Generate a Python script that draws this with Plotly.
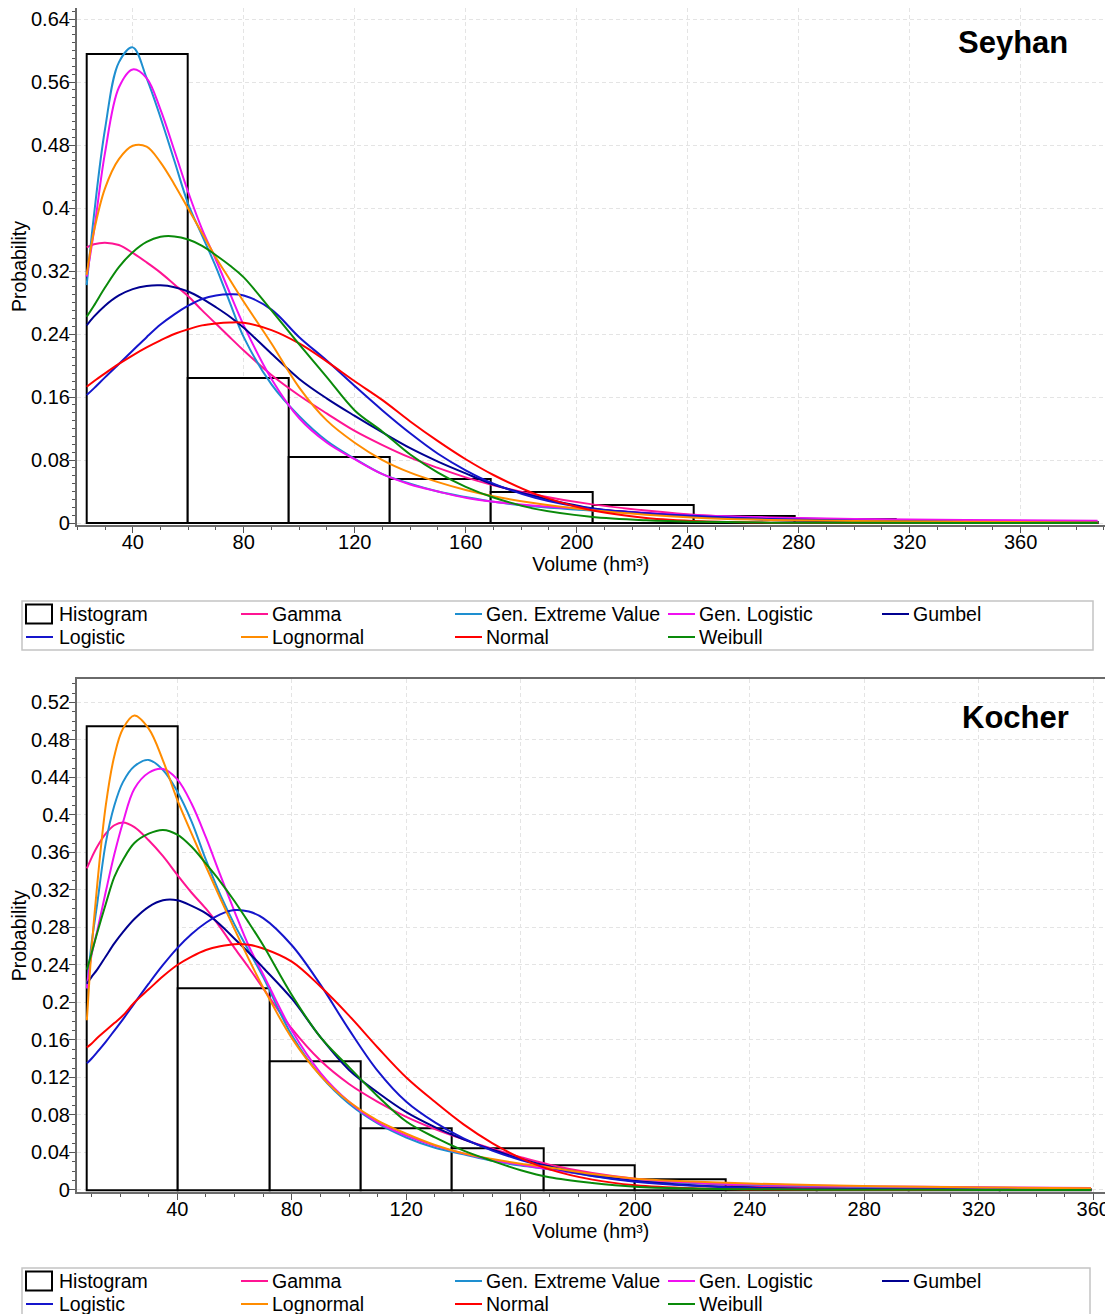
import plotly.graph_objects as go

FONT = "Liberation Sans, Arial, sans-serif"

# ================= Seyhan (top panel) =================
seyhan_bin_edges = [23.4, 59.8, 96.3, 132.7, 169.1, 205.6, 242.0, 278.4, 314.9, 351.3, 387.7]
seyhan_bin_heights = [0.596, 0.1837, 0.0842, 0.0559, 0.0398, 0.0229, 0.0085, 0.005, 0.0025, 0.0015]

seyhan_x = [23.4, 26, 30, 35, 40, 45, 50, 55, 60, 65, 70, 75, 80, 90, 100, 110, 120, 130,
            140, 150, 160, 170, 185, 205, 225, 245, 270, 300, 340, 387.7]
s_gamma = [0.350, 0.354, 0.356, 0.353, 0.343, 0.331, 0.318, 0.303, 0.288, 0.270, 0.253, 0.236,
           0.219, 0.188, 0.162, 0.139, 0.117, 0.099, 0.083, 0.070, 0.058, 0.048, 0.036, 0.024,
           0.016, 0.010, 0.0065, 0.004, 0.0025, 0.0012]
s_gev = [0.302, 0.39, 0.50, 0.585, 0.604, 0.565, 0.515, 0.46, 0.405, 0.365, 0.325, 0.28, 0.236,
         0.176, 0.1356, 0.104, 0.0816, 0.062, 0.05, 0.04, 0.033, 0.027, 0.021, 0.016, 0.012,
         0.009, 0.0065, 0.0045, 0.003, 0.002]
s_genlog = [0.313, 0.37, 0.47, 0.553, 0.576, 0.565, 0.525, 0.473, 0.42, 0.373, 0.334, 0.292,
            0.251, 0.183, 0.133, 0.102, 0.081, 0.062, 0.049, 0.040, 0.032, 0.027, 0.022, 0.0175,
            0.013, 0.0095, 0.007, 0.005, 0.004, 0.003]
s_gumbel = [0.251, 0.262, 0.276, 0.289, 0.297, 0.301, 0.3018, 0.2995, 0.294, 0.285, 0.274, 0.262,
            0.248, 0.215, 0.183, 0.158, 0.136, 0.115, 0.095, 0.078, 0.063, 0.049, 0.034, 0.019,
            0.012, 0.0075, 0.004, 0.002, 0.001, 0.0004]
s_logistic = [0.1625, 0.171, 0.185, 0.202, 0.219, 0.236, 0.252, 0.265, 0.276, 0.2845, 0.289, 0.2904,
              0.289, 0.271, 0.236, 0.206, 0.174, 0.143, 0.114, 0.088, 0.067, 0.05, 0.032, 0.0185,
              0.0125, 0.0085, 0.005, 0.0028, 0.0012, 0.0004]
s_lognormal = [0.315, 0.37, 0.425, 0.462, 0.479, 0.478, 0.458, 0.43, 0.399, 0.368, 0.337, 0.309,
               0.281, 0.228, 0.172, 0.13, 0.102, 0.08, 0.064, 0.052, 0.042, 0.034, 0.025, 0.0165,
               0.0105, 0.0065, 0.004, 0.0025, 0.0015, 0.0008]
s_normal = [0.173, 0.180, 0.19, 0.202, 0.213, 0.223, 0.232, 0.240, 0.246, 0.251, 0.2535, 0.2547,
            0.2543, 0.245, 0.228, 0.205, 0.18, 0.156, 0.129, 0.104, 0.081, 0.061, 0.037, 0.0165,
            0.0065, 0.0022, 0.0005, 0.0001, 0.0, 0.0]
s_weibull = [0.262, 0.276, 0.299, 0.325, 0.344, 0.357, 0.3635, 0.364, 0.36, 0.352, 0.34, 0.327,
             0.312, 0.27, 0.227, 0.185, 0.143, 0.116, 0.087, 0.064, 0.046, 0.0325, 0.018, 0.008,
             0.0035, 0.0015, 0.0005, 0.0002, 0.0, 0.0]

# ================= Kocher (bottom panel) =================
kocher_bin_edges = [8.4, 40.3, 72.2, 104.1, 136.0, 167.9, 199.7, 231.6, 263.5, 295.4, 327.3, 359.2]
kocher_bin_heights = [0.4949, 0.2151, 0.1369, 0.0655, 0.0445, 0.026, 0.0117, 0.0025, 0.0015, 0.001, 0.0005]

kocher_x = [8.4, 10, 12, 15, 18, 21, 25, 30, 35, 40, 45, 50, 55, 60, 65, 70, 80, 90, 100, 110,
            120, 130, 140, 150, 160, 170, 185, 200, 220, 240, 265, 300, 330, 359.2]
k_gamma = [0.343, 0.354, 0.366, 0.380, 0.389, 0.392, 0.387, 0.373, 0.356, 0.336, 0.317, 0.3,
           0.28, 0.258, 0.237, 0.215, 0.172, 0.138, 0.113, 0.094, 0.078, 0.065, 0.054, 0.044,
           0.035, 0.027, 0.018, 0.012, 0.0075, 0.0045, 0.0025, 0.0012, 0.0007, 0.0004]
k_gev = [0.215, 0.262, 0.305, 0.37, 0.41, 0.435, 0.452, 0.4587, 0.448, 0.425, 0.393, 0.352,
         0.315, 0.283, 0.255, 0.227, 0.165, 0.122, 0.092, 0.071, 0.056, 0.045, 0.038, 0.031,
         0.026, 0.022, 0.015, 0.010, 0.0075, 0.0055, 0.004, 0.0028, 0.0022, 0.0018]
k_genlog = [0.215, 0.25, 0.276, 0.318, 0.358, 0.392, 0.428, 0.445, 0.449, 0.438, 0.412, 0.376,
            0.336, 0.297, 0.26, 0.23, 0.17, 0.125, 0.094, 0.072, 0.058, 0.047, 0.039, 0.032,
            0.027, 0.022, 0.016, 0.0115, 0.008, 0.006, 0.0045, 0.0033, 0.0026, 0.002]
k_gumbel = [0.22, 0.227, 0.235, 0.249, 0.263, 0.275, 0.289, 0.302, 0.309, 0.309, 0.303, 0.295,
            0.283, 0.268, 0.253, 0.237, 0.204, 0.163, 0.128, 0.104, 0.083, 0.067, 0.054, 0.043,
            0.033, 0.025, 0.016, 0.0095, 0.005, 0.0025, 0.0012, 0.0005, 0.0002, 0.0001]
k_logistic = [0.135, 0.14, 0.147, 0.158, 0.17, 0.182, 0.199, 0.22, 0.24, 0.258, 0.273, 0.285,
              0.294, 0.2986, 0.297, 0.29, 0.261, 0.219, 0.171, 0.127, 0.094, 0.072, 0.055, 0.042,
              0.032, 0.024, 0.015, 0.0088, 0.0045, 0.0022, 0.001, 0.0004, 0.0002, 0.0001]
k_lognormal = [0.181, 0.255, 0.325, 0.41, 0.463, 0.492, 0.506, 0.492, 0.458, 0.416, 0.38, 0.345,
               0.311, 0.278, 0.246, 0.216, 0.162, 0.122, 0.094, 0.074, 0.06, 0.048, 0.039, 0.033,
               0.028, 0.024, 0.017, 0.012, 0.009, 0.0068, 0.005, 0.0035, 0.0025, 0.0018]
k_normal = [0.152, 0.156, 0.162, 0.17, 0.178, 0.186, 0.2, 0.214, 0.228, 0.24, 0.249, 0.256,
            0.26, 0.2622, 0.2615, 0.2575, 0.2435, 0.217, 0.186, 0.152, 0.12, 0.094, 0.07, 0.05,
            0.034, 0.022, 0.011, 0.005, 0.0017, 0.0005, 0.0001, 0.0, 0.0, 0.0]
k_weibull = [0.235, 0.252, 0.274, 0.305, 0.334, 0.352, 0.370, 0.38, 0.384, 0.379, 0.366, 0.348,
             0.329, 0.308, 0.285, 0.261, 0.208, 0.163, 0.131, 0.1, 0.073, 0.056, 0.042, 0.031,
             0.021, 0.0135, 0.0075, 0.0035, 0.0015, 0.0007, 0.0003, 0.0001, 0.0, 0.0]

# ================= styling =================
names = ["Gamma", "Gen. Extreme Value", "Gen. Logistic", "Gumbel",
         "Logistic", "Lognormal", "Normal", "Weibull"]
colors = ["#ff1493", "#1e8fd0", "#f010f0", "#000090",
          "#1515cc", "#ff8c00", "#ff0000", "#0a8a0a"]

seyhan_curves = [s_gamma, s_gev, s_genlog, s_gumbel, s_logistic, s_lognormal, s_normal, s_weibull]
kocher_curves = [k_gamma, k_gev, k_genlog, k_gumbel, k_logistic, k_lognormal, k_normal, k_weibull]

# The page body has an 8px margin; figure pixel = reference pixel - 8.
W, H = 1105, 1306
fig = go.Figure()


def add_panel(edges, heights, xs, curves, xa, ya):
    centers = [(edges[i] + edges[i + 1]) / 2 for i in range(len(heights))]
    widths = [edges[i + 1] - edges[i] for i in range(len(heights))]
    fig.add_trace(go.Bar(
        x=centers, y=heights, width=widths, name="Histogram", showlegend=False,
        marker=dict(color="white", line=dict(color="black", width=2)),
        xaxis=xa, yaxis=ya, hoverinfo="skip"))
    for cy, nm, col in zip(curves, names, colors):
        fig.add_trace(go.Scatter(
            x=xs, y=cy, mode="lines", name=nm, showlegend=False,
            line=dict(color=col, width=2, shape="spline", smoothing=1.0),
            xaxis=xa, yaxis=ya, hoverinfo="skip"))


add_panel(seyhan_bin_edges, seyhan_bin_heights, seyhan_x, seyhan_curves, "x", "y")
add_panel(kocher_bin_edges, kocher_bin_heights, kocher_x, kocher_curves, "x2", "y2")


def px(v):
    return v / W


def py(v):
    return 1 - v / H


x_dom = [px(68.7), px(1097)]
top_dom = [py(517), 1.0]
bot_dom = [py(1184.3), py(671.3)]

axis_common = dict(
    showline=True, linecolor="#6a6a6a", linewidth=1.5, mirror=True,
    ticks="outside", ticklen=6, tickcolor="#555", tickwidth=1,
    showgrid=True, gridcolor="#e4e4e4", griddash="4px,3px", gridwidth=1,
    zeroline=False, tickfont=dict(size=20, color="#000", family=FONT),
)
xminor = dict(ticks="outside", ticklen=3, dtick=10, tickcolor="#555", showgrid=False)
yminor = dict(ticks="outside", ticklen=3, dtick=0.01, tickcolor="#555", showgrid=False)

# ---- legend boxes drawn as shapes + text ----
legend_items = ["Histogram"] + names
legend_colors = [None] + colors
icon_x = [18, 233, 447, 660, 874]
text_x = [49, 262, 476, 689, 903]

shapes = []
annotations = []


def add_legend(box, rows):
    shapes.append(dict(type="rect", xref="paper", yref="paper",
                       x0=px(box[0]), x1=px(box[1]), y0=py(box[2]), y1=py(box[3]),
                       line=dict(color="#c4c4c4", width=1.5), fillcolor="white", layer="above"))
    for i, (nm, col) in enumerate(zip(legend_items, legend_colors)):
        r, c = divmod(i, 5)
        yc = rows[r]
        if col is None:
            shapes.append(dict(type="rect", xref="paper", yref="paper",
                               x0=px(icon_x[c]), x1=px(icon_x[c] + 26),
                               y0=py(yc + 9.5), y1=py(yc - 9.5),
                               line=dict(color="black", width=2), fillcolor="white", layer="above"))
        else:
            shapes.append(dict(type="line", xref="paper", yref="paper",
                               x0=px(icon_x[c]), x1=px(icon_x[c] + 27), y0=py(yc), y1=py(yc),
                               line=dict(color=col, width=2), layer="above"))
        annotations.append(dict(text=nm, x=px(text_x[c]), y=py(yc), xref="paper", yref="paper",
                                xanchor="left", yanchor="middle", showarrow=False,
                                font=dict(size=19.5, family=FONT, color="#000")))


add_legend((14, 1085, 593, 642), (606, 629))
add_legend((14, 1082, 1260, 1309), (1273, 1296))

annotations.append(dict(text="<b>Seyhan</b>", x=px(1062), y=py(34), xref="paper", yref="paper",
                        xanchor="right", yanchor="middle", showarrow=False,
                        font=dict(size=31, family=FONT, color="black")))
annotations.append(dict(text="<b>Kocher</b>", x=px(1063), y=py(709), xref="paper", yref="paper",
                        xanchor="right", yanchor="middle", showarrow=False,
                        font=dict(size=31, family=FONT, color="black")))

fig.update_layout(
    width=W, height=H,
    margin=dict(l=0, r=0, t=0, b=0, autoexpand=False),
    paper_bgcolor="white", plot_bgcolor="white",
    font=dict(family=FONT, size=19, color="#000"),
    barmode="overlay", bargap=0, showlegend=False,
    xaxis=dict(domain=x_dom, anchor="y", range=[19.8, 390.4], tick0=0, dtick=40,
               minor=xminor, ticklabelstandoff=-8,
               title=dict(text="Volume (hm³)", font=dict(size=19.5), standoff=4),
               **axis_common),
    yaxis=dict(domain=top_dom, anchor="x", range=[-0.0025, 0.654], tick0=0, dtick=0.08,
               minor=yminor, ticklabelstandoff=-5,
               title=dict(text="Probability", font=dict(size=19.5), standoff=0),
               **axis_common),
    xaxis2=dict(domain=x_dom, anchor="y2", range=[4.85, 364.1], tick0=0, dtick=40,
                minor=xminor, ticklabelstandoff=-8,
                title=dict(text="Volume (hm³)", font=dict(size=19.5), standoff=4),
                **axis_common),
    yaxis2=dict(domain=bot_dom, anchor="x2", range=[-0.0025, 0.5447], tick0=0, dtick=0.04,
                minor=yminor, ticklabelstandoff=-5,
                title=dict(text="Probability", font=dict(size=19.5), standoff=0),
                **axis_common),
    shapes=shapes,
    annotations=annotations,
)

fig.write_html("out.html")
